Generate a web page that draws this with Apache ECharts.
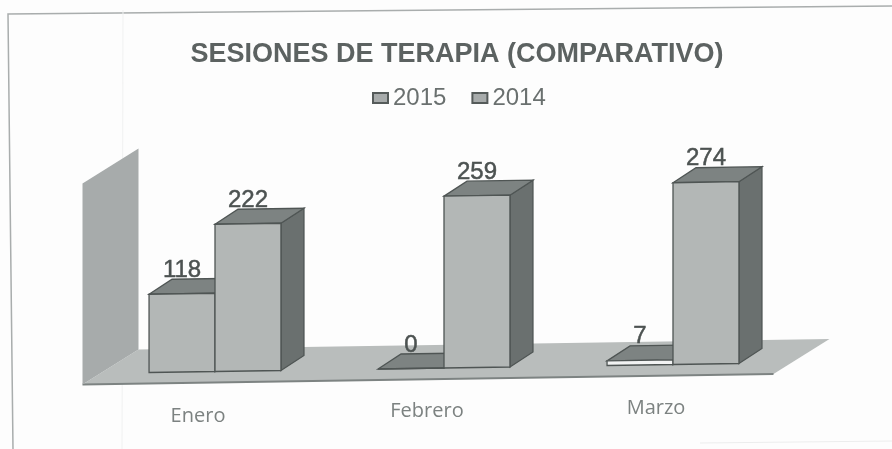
<!DOCTYPE html>
<html>
<head>
<meta charset="utf-8">
<style>
  html, body { margin: 0; padding: 0; background: #fff; }
  #main { width: 892px; height: 449px; }
</style>
<script src="https://cdn.jsdelivr.net/npm/echarts@6/dist/echarts.min.js"></script>
</head>
<body>
<div id="main"></div>
<script>
const categories = ['Enero', 'Febrero', 'Marzo']
const values2015 = [118, 0, 7]
const values2014 = [222, 259, 274]
const seriesNames = ['2015', '2014']
const axisMax = 303

// the scan is a little crooked and the bars are fake 3d
const tilt = -0.0153
const depth = [23, -15]
const barShare = 0.288
const floorFront = [-18, 11]
const floorBack = [56, -35]
const floorExtra = 4
// labels sink a bit from left to right on the crooked page
const labelDrop = [8, 3, 0]

const chart = echarts.init(document.getElementById('main'))

function skew(p, rect) {
  const mid = rect.x + rect.width / 2
  return [p[0], p[1] + (p[0] - mid) * tilt]
}

function poly(points, fill, stroke) {
  return {
    type: 'polygon',
    shape: { points: points },
    style: { fill: fill, stroke: stroke || null, lineWidth: stroke ? 1.3 : 0 }
  }
}

function renderScene(params, api) {
  const rect = params.coordSys
  const y0 = api.coord([0, 0])[1]
  const yTop = api.coord([0, axisMax])[1]
  const l = rect.x + floorFront[0]
  const r = rect.x + rect.width + floorFront[0] + floorExtra
  const front = y0 + floorFront[1]
  const lf = skew([l, front], rect)
  const rf = skew([r, front], rect)
  const lb = [lf[0] + floorBack[0], lf[1] + floorBack[1]]
  const rb = [rf[0] + floorBack[0], rf[1] + floorBack[1]]
  const h = y0 - yTop
  return {
    type: 'group',
    children: [
      poly([lf, rf, rb, lb], '#b9bdbc'),
      {
        type: 'line',
        shape: { x1: lf[0], y1: lf[1], x2: rf[0], y2: rf[1] },
        style: { stroke: '#7d8382', lineWidth: 2 }
      },
      poly([lf, lb, [lb[0], lb[1] - h], [lf[0], lf[1] - h]], '#a7abab')
    ]
  }
}

function renderBar(offset) {
  return function (params, api) {
    const rect = params.coordSys
    const cat = api.value(0)
    const val = api.value(1)
    const w = api.size([1, 0])[0] * barShare
    const base = api.coord([cat, 0])
    const top = api.coord([cat, val])
    const x1 = base[0] + offset * w
    const x2 = x1 + w
    const a = skew([x1, base[1]], rect)
    const b = skew([x2, base[1]], rect)
    const c = skew([x2, top[1]], rect)
    const d = skew([x1, top[1]], rect)
    const shift = (p) => [p[0] + depth[0], p[1] + depth[1]]
    const line = '#4f5554'
    let face = '#b3b7b6'
    if (val === 0) face = '#7d8382'
    else if (val < 10) face = '#f2f3f3'
    return {
      type: 'group',
      children: [
        poly([b, shift(b), shift(c), c], '#6a706f', line),
        poly([d, c, shift(c), shift(d)], '#7d8382', line),
        poly([a, b, c, d], face, line),
        {
          type: 'text',
          style: {
            text: String(val),
            x: (x1 + x2) / 2,
            y: d[1] - 12,
            align: 'center',
            verticalAlign: 'bottom',
            fill: '#4c5251',
            stroke: '#4c5251',
            lineWidth: 0.5,
            font: '24px "Liberation Sans", sans-serif'
          }
        }
      ]
    }
  }
}

function asPoints(values) {
  return values.map((v, i) => [i, v])
}

chart.setOption({
  backgroundColor: '#fdfdfd',
  animation: false,
  title: {
    text: 'SESIONES DE TERAPIA (COMPARATIVO)',
    left: 452,
    top: 36,
    textAlign: 'center',
    textStyle: {
      fontFamily: 'Liberation Sans',
      fontSize: 27,
      fontWeight: 'bold',
      color: '#5c6261'
    }
  },
  legend: {
    data: seriesNames,
    left: 367,
    top: 81,
    itemWidth: 15,
    itemHeight: 10,
    itemGap: 25,
    icon: 'rect',
    textStyle: {
      fontFamily: 'Liberation Sans',
      fontSize: 24,
      color: '#6a706f'
    }
  },
  grid: { left: 100.5, right: 104.5, top: 167, bottom: 81 },
  xAxis: {
    type: 'category',
    data: categories.map((name, i) => ({
      value: name,
      textStyle: { padding: [labelDrop[i], 34, 0, 0] }
    })),
    axisLine: { show: false },
    axisTick: { show: false },
    axisLabel: {
      margin: 30,
      fontFamily: 'Open Sans',
      fontSize: 20,
      color: '#7c8281'
    }
  },
  yAxis: { type: 'value', min: 0, max: axisMax, show: false },
  graphic: [
    // paper frame and the fold of the scanned sheet
    {
      type: 'polyline',
      silent: true,
      shape: { points: [[13, 449], [8, 14], [892, 6]] },
      style: { fill: null, stroke: '#a9adad', lineWidth: 1.5 }
    },
    {
      type: 'line',
      silent: true,
      shape: { x1: 123, y1: 10, x2: 122, y2: 449 },
      style: { stroke: '#f0f1f1', lineWidth: 1 }
    },
    {
      type: 'line',
      silent: true,
      shape: { x1: 700, y1: 443, x2: 892, y2: 441 },
      style: { stroke: '#eceded', lineWidth: 1 }
    }
  ],
  series: [
    {
      name: 'piso',
      type: 'custom',
      coordinateSystem: 'cartesian2d',
      renderItem: renderScene,
      data: [[0, 0]],
      silent: true,
      z: 1
    },
    {
      name: seriesNames[0],
      type: 'custom',
      renderItem: renderBar(-1),
      data: asPoints(values2015),
      encode: { x: 0, y: 1 },
      itemStyle: { color: '#a7abab', borderColor: '#555b5a', borderWidth: 1 },
      z: 2
    },
    {
      name: seriesNames[1],
      type: 'custom',
      renderItem: renderBar(0),
      data: asPoints(values2014),
      encode: { x: 0, y: 1 },
      itemStyle: { color: '#a7abab', borderColor: '#555b5a', borderWidth: 1 },
      z: 3
    }
  ]
})
</script>
</body>
</html>
